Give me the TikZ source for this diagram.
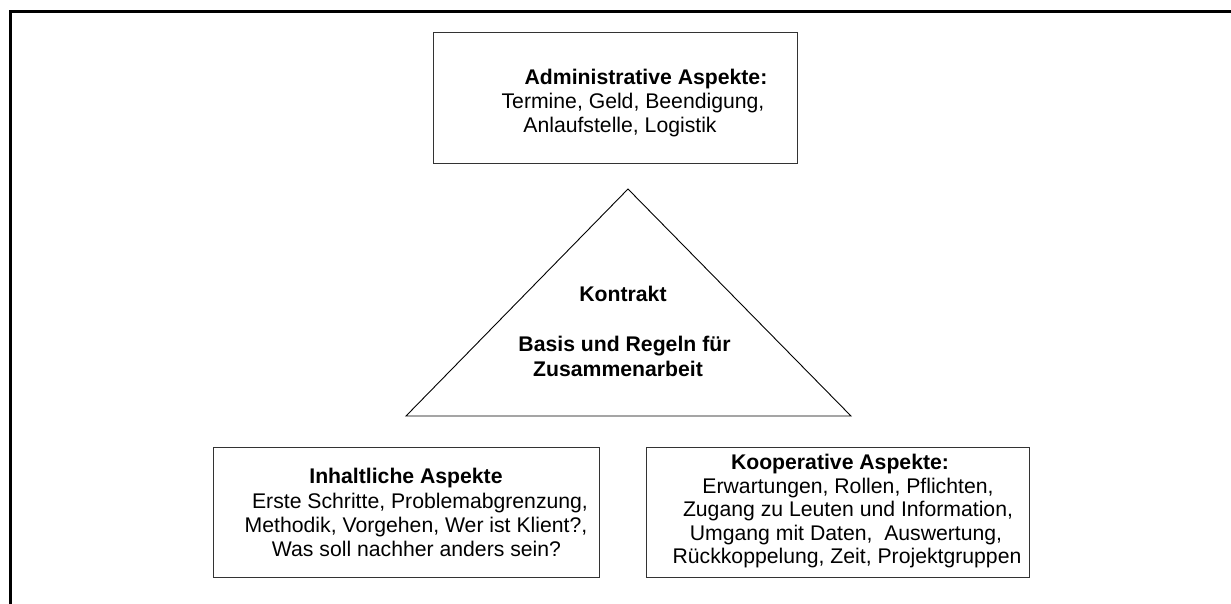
\documentclass[tikz,border=0pt]{standalone}
\usepackage{fontspec}
\setmainfont{Liberation Sans}
\begin{document}
\begin{tikzpicture}[x=1pt,y=-1pt,
  box/.style={draw=black!80,line width=1pt},
  txt/.style={anchor=base,inner sep=0pt,font=\fontsize{21.2}{24}\selectfont},
  hd/.style={txt,font=\fontsize{21.2}{24}\selectfont\bfseries},
  frame/.style={line width=3pt,line cap=rect}]
\useasboundingbox (0,0) rectangle (1231,603);

% outer frame: only left and top edges
\coordinate (fbl) at (10.5,603);
\coordinate (ftl) at (10.5,11);
\coordinate (ftr) at (1231,11);
\draw[frame] (fbl) -- (ftl) -- (ftr);

% administrative aspects (top)
\draw[box] (433,32) rectangle (797,163);
\node[hd]  (adm1) at (646,84)  {Administrative Aspekte:};
\node[txt] (adm2) at (633,108) {Termine, Geld, Beendigung,};
\node[txt] (adm3) at (620,132) {Anlaufstelle, Logistik};

% contract triangle
\coordinate (tapex) at (628,189);
\coordinate (tleft) at (406,416);
\coordinate (tright) at (851,416);
\draw[line width=0.9pt] (tapex) -- (tright) -- (tleft) -- cycle;
\node[hd] (k1) at (623,301) {Kontrakt};
\node[hd] (k2) at (624.5,351) {Basis und Regeln für};
\node[hd] (k3) at (618,376) {Zusammenarbeit};

% content aspects (bottom left)
\draw[box] (213,447) rectangle (599,577);
\node[hd]  (inh1) at (406,483)   {Inhaltliche Aspekte};
\node[txt] (inh2) at (420,508)   {Erste Schritte, Problemabgrenzung,};
\node[txt] (inh3) at (416,532)   {Methodik, Vorgehen, Wer ist Klient?,};
\node[txt] (inh4) at (416.5,556) {Was soll nachher anders sein?};

% cooperative aspects (bottom right)
\draw[box] (646,447) rectangle (1029,577);
\node[hd]  (koo1) at (840,469)   {Kooperative Aspekte:};
\node[txt] (koo2) at (848,493)   {Erwartungen, Rollen, Pflichten,};
\node[txt] (koo3) at (848,516.5) {Zugang zu Leuten und Information,};
\node[txt] (koo4) at (846,540)   {Umgang mit Daten,\ \ Auswertung,};
\node[txt] (koo5) at (847,563.5) {Rückkoppelung, Zeit, Projektgruppen};
\end{tikzpicture}
\end{document}
